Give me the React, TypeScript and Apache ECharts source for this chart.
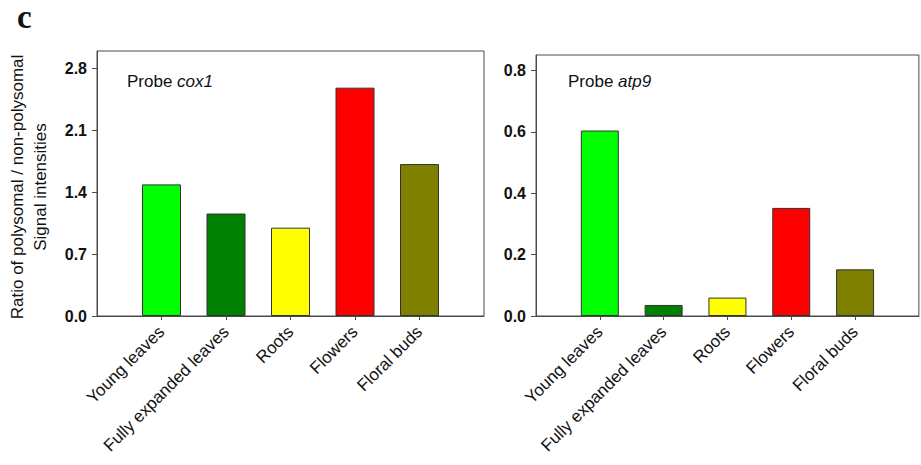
import React, { useEffect, useRef } from "react";
import * as echarts from "echarts";

const categories = ["Young leaves", "Fully expanded leaves", "Roots", "Flowers", "Floral buds"];
const cox1Values = [1.49, 1.16, 1.0, 2.585, 1.72];
const atp9Values = [0.604, 0.036, 0.06, 0.352, 0.152];
const barColors = ["#00FF00", "#008000", "#FFFF00", "#FF0000", "#808000"];
const cox1Ticks = [0, 0.7, 1.4, 2.1, 2.8];
const atp9Ticks = [0, 0.2, 0.4, 0.6, 0.8];
const yTitle = ["Ratio of polysomal / non-polysomal", "Signal intensities"];

const FRAME = "#4a4a4a";
const SANS = "Liberation Sans, Arial, sans-serif";

function paddedCats() {
  return ["", ...categories, ""];
}

function barData(values: number[]) {
  return [
    "-",
    ...values.map((v, i) => ({ value: v, itemStyle: { color: barColors[i] } })),
    "-",
  ];
}

function xAxisCfg(gridIndex: number) {
  return {
    type: "category",
    gridIndex,
    data: paddedCats(),
    boundaryGap: false,
    axisLine: { show: true, lineStyle: { color: FRAME, width: 1 } },
    axisTick: {
      show: true,
      length: 4,
      interval: (i: number) => i >= 1 && i <= categories.length,
      lineStyle: { color: FRAME },
    },
    axisLabel: {
      interval: 0,
      rotate: 45,
      margin: 13,
      fontSize: 17,
      fontFamily: SANS,
      color: "#111",
    },
    splitLine: { show: false },
  };
}

function yAxisCfg(gridIndex: number, max: number, ticks: number[]) {
  return {
    type: "value",
    gridIndex,
    min: 0,
    max,
    axisLine: { show: true, lineStyle: { color: FRAME, width: 1 } },
    axisTick: { show: true, length: 5, customValues: ticks, lineStyle: { color: FRAME } },
    axisLabel: {
      customValues: ticks,
      formatter: (v: number) => v.toFixed(1),
      fontSize: 16,
      fontWeight: "bold",
      fontFamily: SANS,
      color: "#111",
      margin: 10,
    },
    splitLine: { show: false },
  };
}

export default function App() {
  const ref = useRef<HTMLDivElement>(null);
  useEffect(() => {
    if (!ref.current) return;
    const chart = echarts.init(ref.current, null, { renderer: "svg" });
    const option: any = {
      animation: false,
      backgroundColor: "#ffffff",
      grid: [
        { left: 97, top: 51, width: 387, height: 265, show: true, borderColor: FRAME, borderWidth: 1 },
        { left: 536, top: 55, width: 384, height: 261, show: true, borderColor: FRAME, borderWidth: 1 },
      ],
      xAxis: [xAxisCfg(0), xAxisCfg(1)],
      yAxis: [yAxisCfg(0, 3.0, cox1Ticks), yAxisCfg(1, 0.85, atp9Ticks)],
      series: [
        {
          type: "bar",
          xAxisIndex: 0,
          yAxisIndex: 0,
          barWidth: 39,
          data: barData(cox1Values),
          itemStyle: { borderColor: "#333", borderWidth: 1 },
        },
        {
          type: "bar",
          xAxisIndex: 1,
          yAxisIndex: 1,
          barWidth: 38,
          data: barData(atp9Values),
          itemStyle: { borderColor: "#333", borderWidth: 1 },
        },
      ],
      graphic: [
        {
          type: "text",
          x: 17,
          y: 17,
          style: {
            text: "c",
            font: "bold 33px 'Liberation Serif', 'Times New Roman', serif",
            fill: "#111",
            align: "left",
            verticalAlign: "middle",
          },
        },
        {
          type: "text",
          x: 29,
          y: 187,
          rotation: Math.PI / 2,
          style: {
            text: yTitle.join("\n"),
            font: "17px 'Liberation Sans', Arial, sans-serif",
            fill: "#111",
            align: "center",
            verticalAlign: "middle",
            lineHeight: 23,
          },
        },
        {
          type: "text",
          x: 127,
          y: 81,
          style: {
            text: "{n|Probe }{i|cox1}",
            fill: "#111",
            verticalAlign: "middle",
            rich: {
              n: { fontSize: 17, fontFamily: SANS, fill: "#111" },
              i: { fontSize: 17, fontFamily: SANS, fontStyle: "italic", fill: "#111" },
            },
          },
        },
        {
          type: "text",
          x: 568,
          y: 81,
          style: {
            text: "{n|Probe }{i|atp9}",
            fill: "#111",
            verticalAlign: "middle",
            rich: {
              n: { fontSize: 17, fontFamily: SANS, fill: "#111" },
              i: { fontSize: 17, fontFamily: SANS, fontStyle: "italic", fill: "#111" },
            },
          },
        },
      ],
    };
    chart.setOption(option);
    return () => chart.dispose();
  }, []);
  return (
    <div
      ref={ref}
      style={{ position: "fixed", left: 0, top: 0, width: 921, height: 465, background: "#fff" }}
    />
  );
}
